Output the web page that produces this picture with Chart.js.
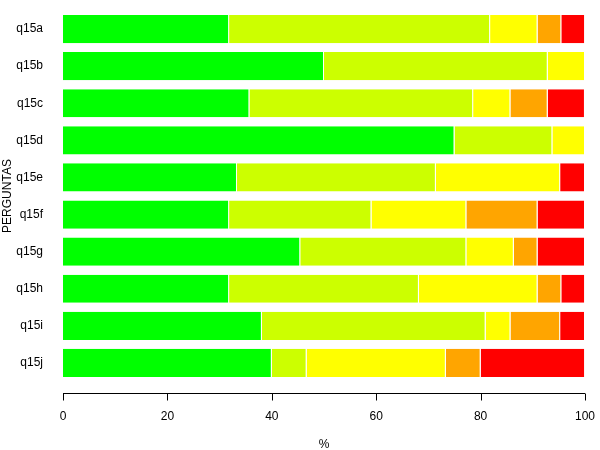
<!DOCTYPE html>
<html>
<head>
<meta charset="utf-8">
<script src="https://cdn.jsdelivr.net/npm/chart.js@4"></script>
<style>
  body { margin: 0; background: #fff; }
  #chart { display: block; }
</style>
</head>
<body>
<canvas id="chart" width="600" height="450"></canvas>
<script>
// questions (top to bottom)
var perguntas = ['q15a', 'q15b', 'q15c', 'q15d', 'q15e', 'q15f', 'q15g', 'q15h', 'q15i', 'q15j'];

// percent of answers per level
var nivel1 = [31.82, 50.00, 35.71, 75.00, 33.33, 31.82, 45.45, 31.82, 38.10, 40.00];
var nivel2 = [50.00, 42.86, 42.86, 18.75, 38.10, 27.27, 31.82, 36.36, 42.86, 6.67];
var nivel3 = [9.09, 7.14, 7.14, 6.25, 23.81, 18.18, 9.09, 22.73, 4.76, 26.67];
var nivel4 = [4.55, 0, 7.14, 0, 0, 13.64, 4.55, 4.55, 9.52, 6.67];
var nivel5 = [4.55, 0, 7.14, 0, 4.76, 9.09, 9.09, 4.55, 4.76, 20.00];

var xTicks = [0, 20, 40, 60, 80, 100];

Chart.defaults.font.family = '"Liberation Sans", Arial, sans-serif';
Chart.defaults.font.size = 12;
Chart.defaults.color = '#000';

// R-style x axis: detached line with ticks below the bars
var rAxis = {
    id: 'rAxis',
    afterDraw: function (chart) {
        var ctx = chart.ctx;
        var xs = chart.scales.x;
        var y = Math.round(chart.chartArea.bottom + 11) + 0.5;
        ctx.save();
        ctx.strokeStyle = '#000';
        ctx.lineWidth = 1;
        ctx.beginPath();
        ctx.moveTo(xs.getPixelForValue(0), y);
        ctx.lineTo(xs.getPixelForValue(100), y);
        xTicks.forEach(function (t) {
            var px = Math.round(xs.getPixelForValue(t)) + 0.5;
            ctx.moveTo(px, y);
            ctx.lineTo(px, y + 7);
        });
        ctx.stroke();
        ctx.restore();
    }
};

function serie(nome, dados, cor) {
    return {
        label: nome,
        data: dados,
        backgroundColor: cor,
        borderColor: '#ffffff',
        borderWidth: { top: 0, bottom: 0, left: 0, right: 1 },
        borderSkipped: false,
        barPercentage: 0.76,
        categoryPercentage: 1.0
    };
}

var ctx = document.getElementById('chart').getContext('2d');
var chart = new Chart(ctx, {
    type: 'bar',
    data: {
        labels: perguntas,
        datasets: [
            serie('1', nivel1, '#00FF00'),
            serie('2', nivel2, '#CCFF00'),
            serie('3', nivel3, '#FFFF00'),
            serie('4', nivel4, '#FFA500'),
            serie('5', nivel5, '#FF0000')
        ]
    },
    options: {
        indexAxis: 'y',
        responsive: false,
        animation: false,
        layout: { padding: { top: 10.5, right: 15, left: 0, bottom: 0 } },
        plugins: {
            legend: { display: false },
            tooltip: { enabled: false }
        },
        scales: {
            x: {
                stacked: true,
                min: 0,
                max: 100,
                afterFit: function (s) {
                    s.height = 68.5;
                    s.paddingLeft = 0;
                    s.paddingRight = 0;
                },
                afterBuildTicks: function (s) {
                    s.ticks = xTicks.map(function (v) { return { value: v }; });
                },
                grid: { display: false, drawTicks: false },
                border: { display: false },
                ticks: { padding: 28, maxRotation: 0 },
                title: { display: true, text: '%', padding: { top: 0, bottom: -2 } }
            },
            y: {
                stacked: true,
                afterFit: function (s) {
                    s.width = 63;
                    s.paddingTop = 0;
                    s.paddingBottom = 0;
                },
                grid: { display: false, drawTicks: false },
                border: { display: false },
                ticks: { padding: 20 },
                title: { display: true, text: 'PERGUNTAS', padding: 0 }
            }
        }
    },
    plugins: [rAxis]
});
</script>
</body>
</html>
